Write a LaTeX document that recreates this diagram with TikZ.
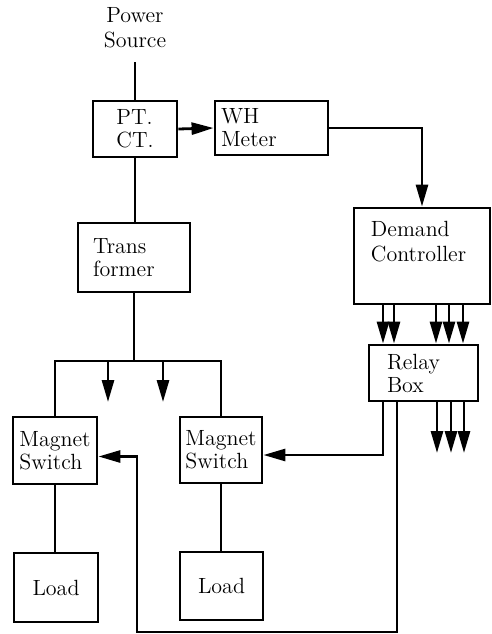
\documentclass[tikz,border=0pt]{standalone}
\usetikzlibrary{arrows.meta}
\begin{document}
\begin{tikzpicture}[x=0.5pt,y=-0.5pt,
        wire/.style={line width=1.4pt},
        arr/.style={wire, -{Triangle[length=11pt,width=6pt]}},
        unit/.style={draw, wire, align=left, inner ysep=0pt,
            font=\fontsize{11}{11.5}\selectfont}]
        \useasboundingbox (0,0) rectangle (492,634);

        % Supply side
        \node[align=center, font=\fontsize{11}{12.5}\selectfont] (src) at (135,28) {Power\\Source};
        \coordinate (srcend) at (135,62);
        \node[unit, minimum width=42pt, minimum height=28pt] (pt) at (135,129) {PT.\\CT.};
        \node[unit, text width=50.5pt, inner xsep=3pt, minimum height=27pt] (wh) at (271.5,128) {WH\\Meter};
        \node[unit, text width=41pt, inner xsep=7.5pt, minimum height=34.5pt] (tr) at (134,257.5) {Trans\\former};

        % Control side
        \node[unit, minimum width=68pt, minimum height=48pt,
            label={[anchor=north west, inner sep=0pt, xshift=9pt, yshift=-7pt, align=left,
                font=\fontsize{11}{12.5}\selectfont]north west:Demand\\Controller}] (dc) at (422,256) {};
        \node[unit, text width=36.5pt, inner xsep=9pt, minimum height=28pt] (rb) at (423.5,373) {Relay\\Box};

        % Switches and loads
        \node[unit, minimum width=42pt, minimum height=33.5pt, inner xsep=1pt] (ms1) at (55,450.5) {Magnet\\Switch};
        \node[unit, minimum width=41pt, minimum height=33pt, inner xsep=1pt] (ms2) at (221,450) {Magnet\\Switch};
        \node[unit, minimum width=42pt, minimum height=34.5pt] (ld1) at (56,587.5) {Load};
        \node[unit, minimum width=41.5pt, minimum height=34pt] (ld2) at (221.5,586) {Load};

        % Power wiring
        \draw[wire] (srcend) -- (pt.north);
        \draw[arr] (pt.east) -- (wh.west);
        \draw[arr] (wh.east) -| (dc.north);
        \draw[wire] (pt.south) -- (pt.south |- tr.north);
        \coordinate (bus) at (135,361);
        \draw[wire] (tr.south) -- (tr.south |- bus);
        \draw[wire] (ms1.north) |- (bus) -| (ms2.north);
        \foreach \x in {108,163}
            \draw[arr] (\x,0 |- bus) -- (\x,402);
        \draw[wire] (ms1.south) -- (ms1.south |- ld1.north);
        \draw[wire] (ms2.south) -- (ms2.south |- ld2.north);

        % Control wiring
        \foreach \x in {383,394,436,449,463}
            \draw[arr] (\x,0 |- dc.south) -- (\x,0 |- rb.north);
        \foreach \x in {437,451,464}
            \draw[arr] (\x,0 |- rb.south) -- (\x,453);
        \draw[arr] (383,0 |- rb.south) |- ([yshift=-2.5pt]ms2.east);
        \coordinate (ret) at (137,632);
        \draw[arr] (397,0 |- rb.south) |- (ret) |- ([yshift=-3pt]ms1.east);
    \end{tikzpicture}
\end{document}
